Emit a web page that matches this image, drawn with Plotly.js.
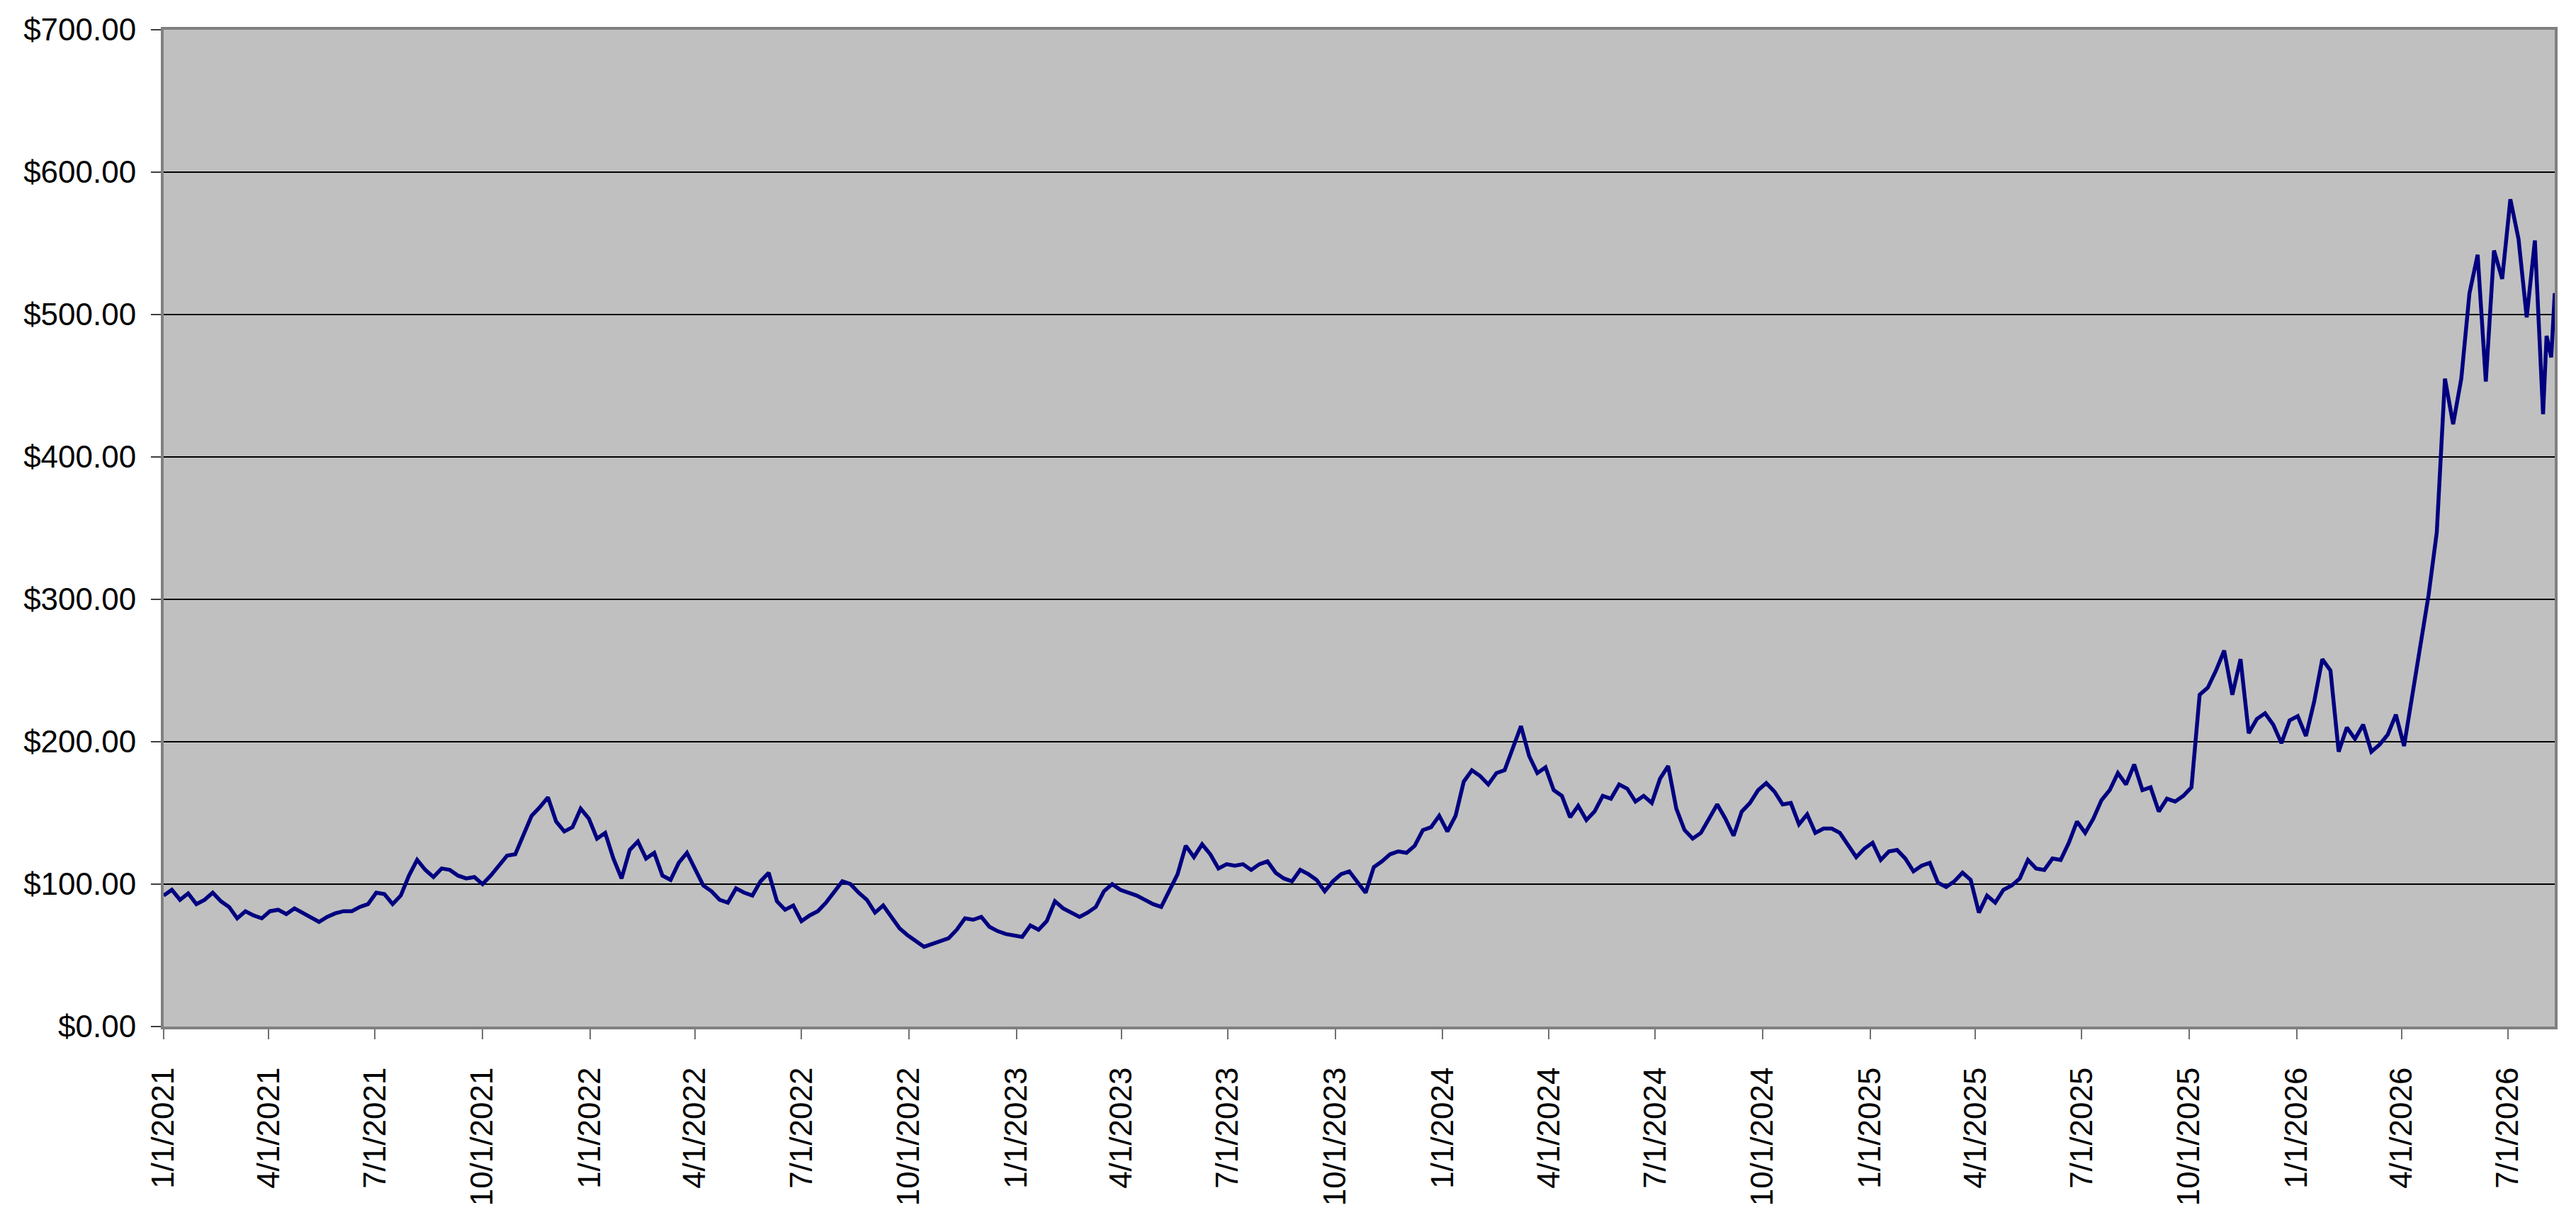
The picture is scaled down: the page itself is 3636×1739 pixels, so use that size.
<!DOCTYPE html>
<html>
<head>
<meta charset="utf-8">
<script src="https://cdn.plot.ly/plotly-3.0.1.min.js"></script>
<style>
  html, body { margin: 0; padding: 0; background: #ffffff; }
  #chart { width: 3636px; height: 1739px; }
</style>
</head>
<body>
<div id="chart"></div>
<script>
// Weekly closing prices, first week starting 1/1/2021
const startDate = '2021-01-01';
const stepDays = 7;

const prices = [
  92, 96, 89, 93.5, 86, 89, 94, 88, 84, 76, 81, 78, 76, 81, 82, 79, 83, 80, 77, 73.5,
  77, 79.5, 81, 81, 84, 86, 94, 93, 86, 92, 106, 117, 110, 105, 111, 110, 106, 104, 105, 100,
  106, 113, 120, 121, 135, 148, 154, 161, 144, 137, 140, 153, 146, 132, 136, 118, 104, 124, 130, 118,
  122, 106, 103, 115, 122, 110, 99, 95, 89, 87, 97, 94, 92, 102, 108, 88, 82, 85, 74, 78,
  81, 87, 95, 102, 100, 94, 89, 80, 85, 77, 69, 64, 60, 56, 58, 60, 62, 68, 76, 75,
  77, 70, 67, 65, 64, 63, 71, 68, 74, 88, 83, 80, 77, 80, 84, 95, 100, 96, 94, 92,
  89, 86, 84, 96, 107, 127, 119, 128, 121, 111, 114, 113, 114, 110, 114, 116, 108, 104, 102, 110,
  107, 103, 95, 102, 107, 109, 101, 94, 112, 116, 121, 123, 122, 127, 138, 140, 148, 137, 148, 172,
  180, 176, 170, 178, 180, 196, 211, 190, 178, 182, 166, 162, 147, 155, 145, 151, 162, 160, 170, 167,
  158, 162, 157, 174, 183, 153, 138, 132, 136, 146, 156, 146, 134, 151, 157, 166, 171, 165, 156, 157,
  142, 149, 136, 139, 139, 136, 127, 119, 125, 129, 117, 123, 124, 118, 109, 113, 115, 101, 98, 102,
  108, 103, 80, 92, 87, 96, 99, 104, 117, 111, 110, 118, 117, 129, 144, 136, 146, 159, 166, 178,
  170, 184, 166, 168, 151, 160, 158, 162, 168, 233, 238, 250, 264, 233, 258, 206, 216, 220, 212, 199,
  215, 218, 204, 228, 258, 250, 193, 210, 202, 212, 193, 198, 205, 219, 197, 233, 270, 303, 347, 455,
  423, 455, 515, 542, 453, 545, 525, 581, 553, 498, 552, 430, 485, 470, 515
];

const tickDates = [
  '2021-01-01', '2021-04-01', '2021-07-01', '2021-10-01',
  '2022-01-01', '2022-04-01', '2022-07-01', '2022-10-01',
  '2023-01-01', '2023-04-01', '2023-07-01', '2023-10-01',
  '2024-01-01', '2024-04-01', '2024-07-01', '2024-10-01',
  '2025-01-01', '2025-04-01', '2025-07-01', '2025-10-01',
  '2026-01-01', '2026-04-01', '2026-07-01'
];

const priceTicks = [0, 100, 200, 300, 400, 500, 600, 700];

// Build the weekly date axis (last few points are half-week apart)
function weeklyDates(start, count, step) {
    const t0 = Date.parse(start + 'T00:00:00Z');
    const out = [];
    let t = t0;
    for (let i = 0; i < count; i++) {
        out.push(new Date(t).toISOString().slice(0, 10));
        t += (i >= count - 4 ? step / 2 : step) * 86400000;
    }
    return out;
}

const dates = weeklyDates(startDate, prices.length, stepDays);

const trace = {
    x: dates,
    y: prices,
    type: 'scatter',
    mode: 'lines',
    line: { color: '#000080', width: 5.5 },
    hoverinfo: 'x+y'
};

const font = { family: '"Liberation Sans", Arial, sans-serif', size: 44, color: '#000000' };

const layout = {
    width: 3636,
    height: 1739,
    paper_bgcolor: '#ffffff',
    plot_bgcolor: '#c0c0c0',
    showlegend: false,
    font: font,
    margin: { l: 231, r: 30, t: 42, b: 290 },
    xaxis: {
        type: 'date',
        range: ['2021-01-01', '2026-08-10'],
        tickvals: tickDates,
        tickformat: '%-m/%-d/%Y',
        tickangle: -90,
        tickfont: font,
        ticks: 'outside',
        ticklen: 14,
        tickwidth: 2,
        tickcolor: '#707070',
        showgrid: false,
        zeroline: false,
        showline: true,
        linecolor: '#808080',
        linewidth: 4,
        mirror: true,
        ticklabelstandoff: 22
    },
    yaxis: {
        range: [0, 700],
        tickvals: priceTicks,
        tickformat: '$.2f',
        tickfont: font,
        ticks: 'outside',
        ticklen: 14,
        tickwidth: 2,
        tickcolor: '#404040',
        showgrid: true,
        gridcolor: '#000000',
        gridwidth: 1.5,
        zeroline: false,
        showline: true,
        linecolor: '#808080',
        linewidth: 4,
        mirror: true,
        ticklabelstandoff: 12
    }
};

Plotly.newPlot('chart', [trace], layout, { displayModeBar: false, responsive: false, staticPlot: true });
</script>
</body>
</html>
